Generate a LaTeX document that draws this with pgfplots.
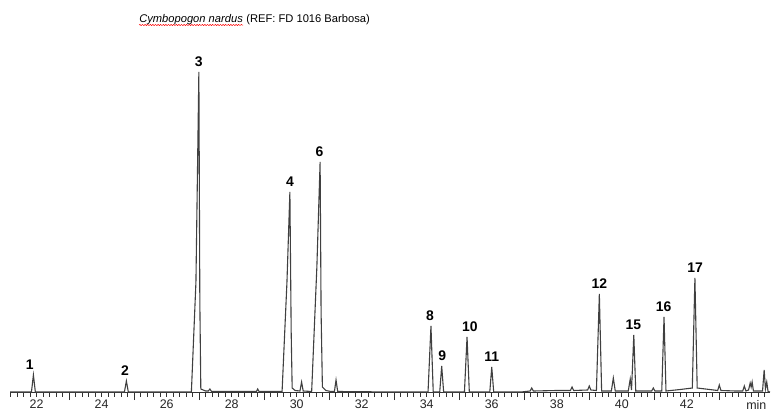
\documentclass[border=0pt]{standalone}
\usepackage{pgfplots}
\pgfplotsset{compat=1.18}
\usepackage{pgfplotstable}
\usepackage{fontspec}
\setmainfont{Liberation Sans}
\usetikzlibrary{decorations.pathmorphing}

% chromatogram signal: time (min), response (arbitrary units)
\pgfplotstableread{
t h
21.18 0
21.84 0
21.90 17
21.96 0
24.70 0
24.76 11
24.82 0
26.76 0
26.90 110
26.99 320
27.02 90
27.05 3
27.20 1
27.28 1
27.33 3
27.38 0.5
28.76 0.5
28.80 3
28.84 0.5
29.55 0.5
29.70 110
29.79 200
29.83 60
29.86 4
29.95 1.5
30.10 1
30.15 10
30.20 1
30.46 0.5
30.62 125
30.72 230
30.75 80
30.79 5
30.90 1.5
31.05 0.5
31.16 0.5
31.21 12
31.26 0.5
33.00 0
34.04 0
34.13 66
34.20 0
34.40 0
34.46 26
34.52 0
35.16 0
35.24 55
35.31 0
35.94 0
36.00 25
36.06 0
36.90 0
37.18 1
37.23 4
37.28 1
38.00 1.5
38.42 1.5
38.47 5
38.52 1.5
38.95 2
39.00 6
39.05 2
39.22 1.5
39.31 98
39.38 1
39.68 1
39.74 14
39.80 1
40.20 1
40.26 13
40.30 2
40.37 57
40.43 1
40.92 1
40.97 4
41.02 1
41.23 1
41.30 75
41.36 1
41.80 2.5
42.17 4
42.25 114
42.32 4
42.70 2.5
42.95 1.5
43.00 7
43.05 1.5
43.50 1
43.72 1
43.77 6
43.82 1
43.90 2
43.95 9
43.98 5
44.01 10
44.05 1
44.33 1
44.38 22
44.42 3
44.46 10
44.50 0.5
44.56 0
}\signal

% numbered peaks
\pgfplotstableread{
t h lab
21.79 17 1
24.72 11 2
26.99 320 3
29.79 200 4
30.70 230 6
34.10 66 8
34.48 26 9
35.33 55 10
36.00 25 11
39.31 98 12
40.36 57 15
41.29 75 16
42.26 114 17
}\peaks

\begin{document}
\begin{tikzpicture}
\begin{axis}[
    scale only axis,
    width=760bp, height=330bp,
    xmin=21.18, xmax=44.56,
    ymin=0, ymax=330,
    clip=false,
    axis x line*=bottom,
    axis y line=none,
    x axis line style={black!80, line width=0.8bp},
    tick align=outside,
    xtick={22,24,...,42},
    major tick length=0bp,
    minor xtick={21.2,21.4,...,44.5},
    minor tick length=4.5bp,
    extra x ticks={23,25,...,43},
    extra x tick labels={},
    extra x tick style={major tick length=8bp},
    tick style={black!80, line width=0.8bp},
    /pgf/number format/assume math mode=true,
    xticklabel style={font=\fontsize{12.5}{13}\selectfont, text=black!85, yshift=-4.5bp},
]
\coordinate (O) at (rel axis cs:0,0);
\addplot[black!75, line width=1.1bp, mark=none] table[x=t, y=h] {\signal};
\addplot[draw=none, mark=none,
    nodes near coords,
    point meta=explicit symbolic,
    nodes near coords style={font=\fontsize{14}{15}\selectfont\bfseries,
        anchor=south, inner sep=0pt, yshift=5bp}]
    table[x=t, y=h, meta=lab] {\peaks};
\node[anchor=base, font=\fontsize{12.5}{13}\selectfont, text=black!85, inner sep=0pt]
    at (axis cs:44.14,-17) {min};
\node[anchor=base east, font=\fontsize{11.2}{12}\selectfont\itshape, inner sep=0pt] (it)
    at (axis cs:28.35,370) {Cymbopogon nardus};
\node[anchor=base west, font=\fontsize{11.2}{12}\selectfont, inner sep=0pt]
    at (it.base east) {\ (REF: FD 1016 Barbosa)};
\draw[red, line width=0.5bp, decorate,
    decoration={snake, amplitude=0.6bp, segment length=2.6bp}]
    ([yshift=-3bp]it.base west) -- ([yshift=-3bp]it.base east);
\end{axis}
\pgfresetboundingbox
\path[use as bounding box] (O) ++(-10bp,-19bp) rectangle ++(777bp,411bp);
\end{tikzpicture}
\end{document}
